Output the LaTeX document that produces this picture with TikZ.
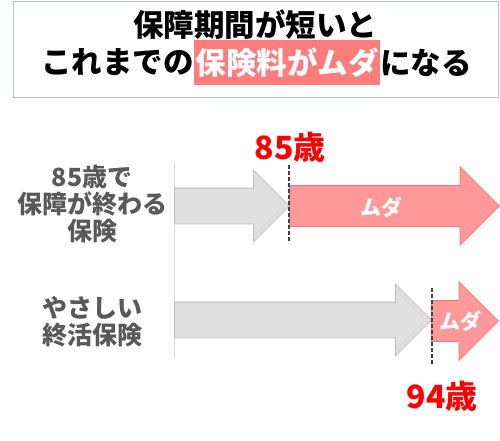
\documentclass[tikz,border=0pt]{standalone}
\usepackage{fontspec}
\setmainfont{Noto Sans CJK JP}
\usetikzlibrary{positioning,shapes.arrows}

\definecolor{frameblue}{RGB}{180,190,214}
\definecolor{mudapink}{RGB}{255,124,124}
\definecolor{wastefill}{RGB}{255,153,153}
\definecolor{wasteline}{RGB}{255,118,118}
\definecolor{keepfill}{RGB}{223,223,223}
\definecolor{keepline}{RGB}{188,188,188}
\definecolor{labelgray}{RGB}{89,89,89}

\begin{document}
\begin{tikzpicture}[
        x=1pt, y=-1pt,
        titlebox/.style={draw=frameblue, line width=1pt, minimum width=485pt, minimum height=96pt, inner sep=0pt},
        headline/.style={font=\fontsize{30.5}{36}\selectfont\bfseries, inner sep=0pt},
        mudamark/.style={headline, fill=mudapink, text=white, inner xsep=1.5pt, inner ysep=8pt},
        planlabel/.style={font=\fontsize{25}{27}\selectfont\bfseries, text=labelgray, align=center},
        keeparrow/.style={single arrow, draw=keepline, fill=keepfill, line width=0.8pt, inner xsep=0pt, inner ysep=17.5pt, anchor=tail, single arrow head extend=18pt},
        wastearrow/.style={single arrow, draw=wasteline, fill=wastefill, line width=0.8pt, inner xsep=0pt, inner ysep=20pt, anchor=tail, single arrow head extend=19pt},
        mudatext/.style={font=\fontsize{21}{25}\selectfont\bfseries, text=white},
        agelabel/.style={font=\fontsize{32}{36}\selectfont\bfseries, text=red},
        cutline/.style={draw=black!75, line width=1.2pt, dash pattern=on 4pt off 2pt},
        axisline/.style={draw=black!15, line width=1pt}
    ]
        \useasboundingbox (0,0) rectangle (500,441);

        % title
        \node[titlebox] (title) at (255.5,50) {};
        \node[headline] (line1) at (255,25) {保障期間が短いと};
        \node[mudamark] (muda) at (287,62.5) {保険料がムダ};
        \node[headline, left=0pt of muda] (pre) {これまでの};
        \node[headline, right=0pt of muda] (post) {になる};

        % plans
        \node[planlabel] (plan85) at (92,204) {85歳で\\保障が終わる\\保険};
        \node[planlabel] (planend) at (92,322) {やさしい\\終活保険};

        \coordinate (axistop) at (174,163);
        \coordinate (axisbottom) at (174,358);
        \draw[axisline] (axistop) -- (axisbottom);

        \node[keeparrow, minimum height=115pt] (keep85) at (174,206) {};
        \node[wastearrow, minimum height=210pt] (waste85) at (289,206) {};
        \node[keeparrow, minimum height=257pt] (keepend) at (174,320) {};
        \node[wastearrow, minimum height=67pt] (wasteend) at (431,321) {};

        \node[mudatext] (muda85) at (381,207) {ムダ};
        \node[mudatext] (mudaend) at (460,321) {ムダ};

        \coordinate (cut85top) at (289,165);
        \coordinate (cut85bottom) at (289,243);
        \coordinate (cutendtop) at (432,288);
        \coordinate (cutendbottom) at (432,365);
        \draw[cutline] (cut85top) -- (cut85bottom);
        \draw[cutline] (cutendtop) -- (cutendbottom);

        \node[agelabel] (age85) at (290,147) {85歳};
        \node[agelabel] (age94) at (442,396) {94歳};
    \end{tikzpicture}
\end{document}
